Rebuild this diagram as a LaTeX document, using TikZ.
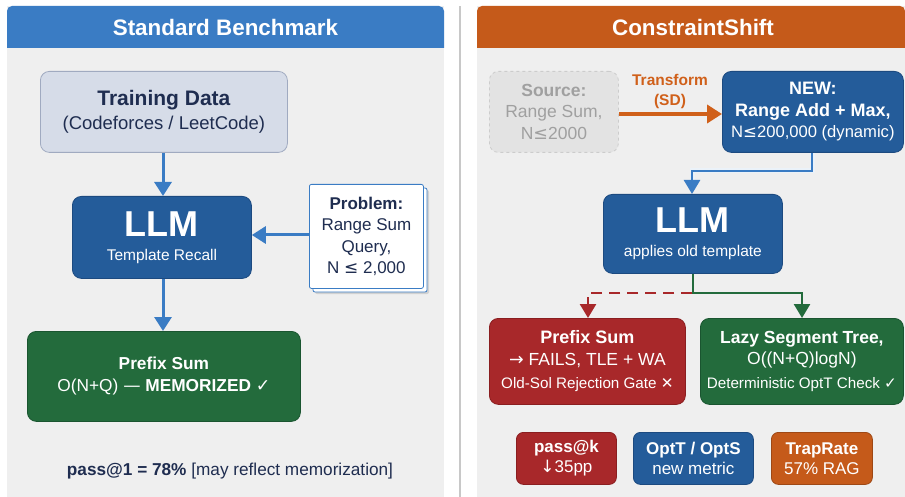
\documentclass[tikz,border=0pt]{standalone}
\usepackage{fontspec}
\setmainfont{Liberation Sans}
\newfontfamily\symf{DejaVu Sans}
\usetikzlibrary{arrows.meta,positioning}
\definecolor{hblue}{HTML}{3A7CC4}
\definecolor{horange}{HTML}{C55A1A}
\definecolor{panelbg}{HTML}{EFEFEF}
\definecolor{dblue}{HTML}{245C9A}
\definecolor{dbluebd}{HTML}{1C4A80}
\definecolor{dgreen}{HTML}{236B3C}
\definecolor{dgreenbd}{HTML}{1A5530}
\definecolor{dred}{HTML}{A8282A}
\definecolor{dredbd}{HTML}{8A1E20}
\definecolor{navy}{HTML}{1F2D50}
\definecolor{tdfill}{HTML}{D6DCE8}
\definecolor{tdbd}{HTML}{A0AAC0}
\definecolor{aorange}{HTML}{D0601A}
\definecolor{srcfill}{HTML}{E3E3E3}
\definecolor{srcbd}{HTML}{CCCCCC}
\definecolor{srctxt}{HTML}{A0A0A0}
\definecolor{divgray}{HTML}{C8C8C8}
\tikzset{
  box/.style={draw, rounded corners=9pt, line width=0.8pt, align=center, inner sep=0pt, anchor=north west},
  bluebox/.style={box, fill=dblue, draw=dbluebd, text=white},
  greenbox/.style={box, fill=dgreen, draw=dgreenbd, text=white},
  redbox/.style={box, fill=dred, draw=dredbd, text=white},
  orangebox/.style={box, fill=horange, draw=horange!80!black, text=white},
  flowarrow/.style={line width=3pt, -{Triangle[length=14pt,width=17pt]}},
  thinarrow/.style={line width=2.6pt, -{Triangle[length=14pt,width=16pt]}},
}
\begin{document}
\begin{tikzpicture}[x=1pt,y=-1pt]
\useasboundingbox (0,0) rectangle (905,497);
\fill[white] (0,0) rectangle (905,497);
% panels
\fill[panelbg] (7,6) rectangle (444,497);
\fill[hblue] (7,48) -- (7,12) [rounded corners=5pt] -- (7,6) -- (444,6) [sharp corners] -- (444,48) -- cycle;
\node[text=white, font=\bfseries\fontsize{22.4}{24}\selectfont] (lt) at (225.5,27) {Standard Benchmark};
\fill[divgray] (458.5,6) rectangle (461,497);
\fill[panelbg] (477,6) rectangle (905,497);
\fill[horange] (477,48) -- (477,12) [rounded corners=5pt] -- (477,6) -- (905,6) [sharp corners] -- (905,48) -- cycle;
\node[text=white, font=\bfseries\fontsize{22.4}{24}\selectfont] (rt) at (693,27) {ConstraintShift};

% ---------- left ----------
\node[box, fill=tdfill, draw=tdbd, text=navy, minimum width=247pt, minimum height=81pt, font=\fontsize{18.5}{21}\selectfont] (td) at (40,71)
  {{\bfseries\fontsize{21}{21}\selectfont Training Data}\\[3pt](Codeforces / LeetCode)};
\node[bluebox, minimum width=179pt, minimum height=82pt, font=\fontsize{15.5}{17}\selectfont] (llm) at (72,196)
  {{\bfseries\fontsize{36}{17}\selectfont LLM}\\[7pt]Template Recall};
% problem card with back copy
\fill[black!18, rounded corners=2pt] (315,190) rectangle (429,294);
\draw[fill=white, draw=hblue, line width=0.8pt, rounded corners=2pt] (313,188) rectangle (427,292);
\node[box, draw=hblue, fill=white, rounded corners=2pt, minimum width=114pt, minimum height=104pt, text=navy,
  font=\fontsize{17}{21.5}\selectfont] (prob) at (309,184)
  {{\bfseries Problem:}\\Range Sum\\Query,\\N {\symf ≤} 2,000};
\node[greenbox, minimum width=273pt, minimum height=90pt, font=\fontsize{17.3}{22}\selectfont] (ps) at (27,331)
  {{\bfseries Prefix Sum}\\O(N+Q) {\symf —} {\bfseries MEMORIZED} {\symf\bfseries ✓}};
\node[text=navy, font=\fontsize{17.2}{19}\selectfont] (p1) at (230,471) {{\bfseries pass@1 = 78\%} [may reflect memorization]};
\draw[flowarrow, hblue] (td.south -| 163,0) -- (llm.north -| 163,0);
\draw[flowarrow, hblue] (prob.west |- 0,235) -- (llm.east |- 0,235);
\draw[flowarrow, hblue] (llm.south -| 163,0) -- (ps.north -| 163,0);

% ---------- right ----------
\node[box, dashed, fill=srcfill, draw=srcbd, text=srctxt, minimum width=129pt, minimum height=81pt, font=\fontsize{17.5}{21.5}\selectfont] (src) at (489,71)
  {{\bfseries Source:}\\Range Sum,\\N{\symf ≤}2000};
\node[bluebox, minimum width=181pt, minimum height=81pt, font=\fontsize{16.6}{21.5}\selectfont] (new) at (722,71)
  {{\bfseries\fontsize{18}{21.5}\selectfont NEW:}\\{\bfseries\fontsize{18}{21.5}\selectfont Range Add + Max,}\\N{\symf ≤}200,000 (dynamic)};
\draw[line width=4.5pt, aorange, -{Triangle[length=15pt,width=18pt]}] (src.east |- 0,114) -- (new.west |- 0,114);
\node[text=aorange, font=\bfseries\fontsize{15.5}{20}\selectfont, align=center] (tf) at (670,91) {Transform\\(SD)};
\node[bluebox, minimum width=179pt, minimum height=79pt, font=\fontsize{15.5}{17}\selectfont] (llm2) at (603,194)
  {{\bfseries\fontsize{36}{17}\selectfont LLM}\\[7pt]applies old template};
\draw[line width=5pt, white!90!hblue] (new.south -| 812,0) |- (692,171) -- (692,185);
\draw[thinarrow, hblue] (new.south -| 812,0) |- (692,171) -- (llm2.north -| 692,0);
\node[redbox, minimum width=196pt, minimum height=86pt, font=\fontsize{17.5}{21.5}\selectfont] (fail) at (489,318)
  {{\bfseries\fontsize{18}{21.5}\selectfont Prefix Sum}\\{\symf →} FAILS, TLE + WA\\[2pt]{\fontsize{15.2}{16}\selectfont Old-Sol Rejection Gate {\symf\bfseries ✕}}};
\node[greenbox, minimum width=203pt, minimum height=86pt, font=\fontsize{17.5}{21.5}\selectfont] (lst) at (700,318)
  {{\bfseries Lazy Segment Tree,}\\O((N+Q)logN)\\[2pt]{\fontsize{15.2}{16}\selectfont Deterministic OptT Check {\symf\bfseries ✓}}};
\coordinate (split) at (692,293);
\draw[thinarrow, dgreen] (llm2.south -| 693,0) -- (693,293) -| (lst.north -| 802,0);
\draw[thinarrow, dred, dash pattern=on 11pt off 7pt] (split) -| (fail.north -| 588,0);
\node[redbox, rounded corners=7pt, minimum width=100pt, minimum height=52pt, font=\fontsize{17}{20}\selectfont] (pk) at (516,432)
  {{\bfseries pass@k}\\{\symf ↓}35pp};
\node[bluebox, rounded corners=7pt, minimum width=120pt, minimum height=52pt, font=\fontsize{17}{20}\selectfont] (opt) at (633,432)
  {{\bfseries OptT / OptS}\\new metric};
\node[orangebox, rounded corners=7pt, minimum width=101pt, minimum height=52pt, font=\fontsize{17}{20}\selectfont] (trap) at (771,432)
  {{\bfseries TrapRate}\\57\% RAG};
\end{tikzpicture}
\end{document}
